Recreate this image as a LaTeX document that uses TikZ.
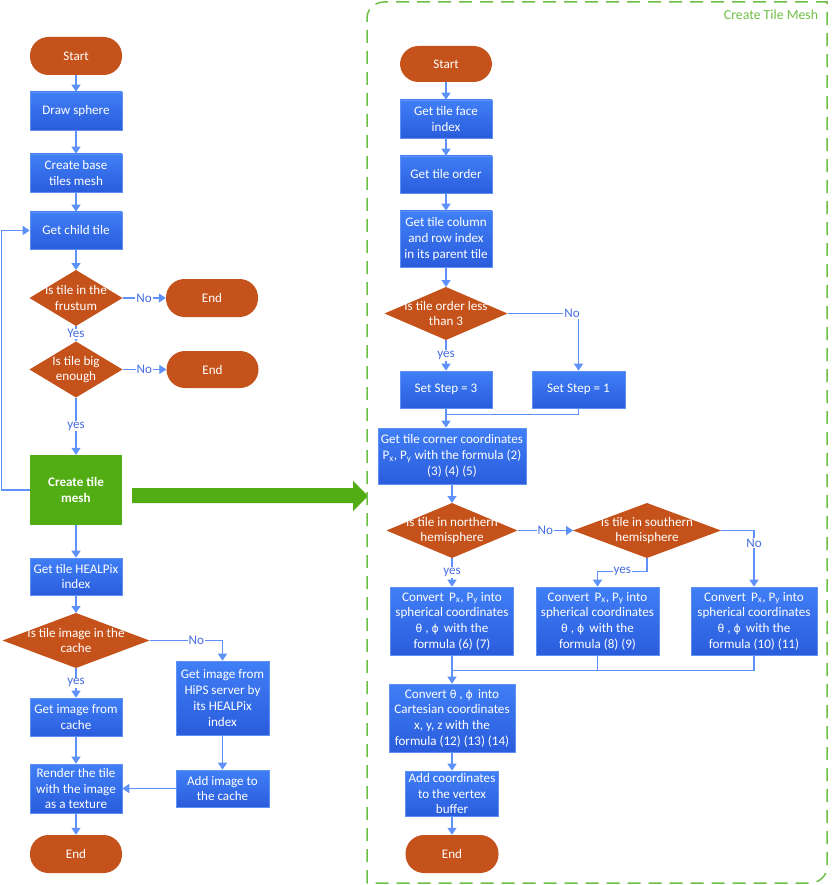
\documentclass[tikz,border=0pt]{standalone}
\usepackage{fontspec}
\setmainfont{Carlito}
\newfontfamily\symf{DejaVu Sans}
\usetikzlibrary{shapes.geometric,arrows.meta,calc}
\definecolor{termc}{RGB}{197,82,26}
\definecolor{boxtop}{RGB}{64,127,246}
\definecolor{boxbot}{RGB}{42,92,220}
\definecolor{boxedge}{RGB}{95,145,245}
\definecolor{linec}{RGB}{95,145,250}
\definecolor{labc}{RGB}{70,110,228}
\definecolor{gbox}{RGB}{82,172,20}
\definecolor{framec}{RGB}{110,190,70}
\newcommand{\mytheta}{{\symf\fontsize{11}{15.7}\selectfont θ}}
\newcommand{\myphi}{{\symf\fontsize{11}{15.7}\selectfont ϕ}}
\begin{document}
\begin{tikzpicture}[x=1pt,y=-1pt,
  font=\fontsize{13.1}{15.7}\selectfont,
  base/.style={inner sep=0pt, align=center, text=white},
  term/.style={base, rectangle, rounded corners=18.5pt, fill=termc, minimum width=92pt, minimum height=38pt},
  proc/.style={base, rectangle, top color=boxtop, bottom color=boxbot, draw=boxedge, line width=0.7pt, minimum width=92pt, minimum height=38pt},
  gproc/.style={base, rectangle, fill=gbox, minimum width=92pt, minimum height=70pt, font=\fontsize{13.1}{15.7}\selectfont\bfseries},
  dec/.style={diamond, fill=termc, inner sep=0pt, outer sep=0pt},
  dtxt/.style={base},
  conn/.style={draw=linec, line width=1.3pt, -{Triangle[width=9pt,length=7pt]}},
  cline/.style={draw=linec, line width=1.3pt},
  lab/.style={text=labc, fill=white, inner sep=1pt},
  frame/.style={draw=framec, line width=1.5pt, dash pattern=on 13pt off 8pt}
]
\useasboundingbox (0,0) rectangle (831,885);

% ---------------- left flow ----------------
\node[term] (s1) at (76,56) {Start};
\node[proc] (p1) at (76,111) {Draw sphere};
\node[proc] (p2) at (76,173) {Create base\\tiles mesh};
\node[proc, minimum height=37pt] (p3) at (76,230.5) {Get child tile};
\node[dec, minimum width=93pt, minimum height=56pt] (d1) at (76,298) {};
\node[dtxt] (d1t) at (d1) {Is tile in the\\frustum};
\node[term] (e1) at (212,298) {End};
\node[dec, minimum width=93pt, minimum height=56pt] (d2) at (76,369.5) {};
\node[dtxt] (d2t) at (d2) {Is tile big\\enough};
\node[term, minimum height=37pt] (e2) at (212.5,369.5) {End};
\node[gproc] (g) at (76,490) {Create tile\\mesh};
\node[proc, minimum height=37pt] (p4) at (76,576.5) {Get tile HEALPix\\index};
\node[dec, minimum width=147pt, minimum height=55pt] (d3) at (76,640.5) {};
\node[dtxt] (d3t) at (d3) {Is tile image in the\\cache};
\node[proc] (p5) at (76,717) {Get image from\\cache};
\node[proc, minimum width=93pt, minimum height=74pt] (p6) at (222.5,698) {Get image from\\HiPS server by\\its HEALPix\\index};
\node[proc, minimum height=49pt] (p7) at (76,788.5) {Render the tile\\with the image\\as a texture};
\node[proc, minimum width=93pt, minimum height=37pt] (p8) at (222.5,788.5) {Add image to\\the cache};
\node[term] (e3) at (76,854) {End};

\draw[conn] (s1.south) -- (p1.north);
\draw[conn] (p1.south) -- (p2.north);
\draw[conn] (p2.south) -- (p3.north);
\draw[conn] (p3.south) -- (d1.north);
\draw[conn] (d1.east) -- node[lab]{No} (e1.west);
\draw[conn] (d1.south) -- node[lab]{Yes} (d2.north);
\draw[conn] (d2.east) -- node[lab]{No} (e2.west);
\draw[conn] (d2.south) -- node[lab]{yes} (g.north);
\draw[conn] (g.south) -- (p4.north);
\draw[conn] (p4.south) -- (d3.north);
\draw[conn] (d3.east) -| node[lab, pos=0.32]{No} (p6.north);
\draw[conn] (d3.south) -- node[lab]{yes} (p5.north);
\draw[conn] (p5.south) -- (p7.north);
\draw[conn] (p6.south) -- (p8.north);
\draw[conn] (p8.west) -- (p7.east);
\draw[conn] (p7.south) -- (e3.north);
\draw[conn] (g.west) -- ++(-28,0) |- (p3.west);

% big green arrow
\fill[gbox] (132,488) -- (353,488) -- (353,481) -- (368,496) -- (353,511) -- (353,503) -- (132,503) -- cycle;

% ---------------- frame ----------------
\draw[frame] (367,883) -- (367,18) .. controls (367,9) and (375,2) .. (384,2) -- (827,2) -- (827,867) .. controls (827,876) and (819,883) .. (810,883) -- cycle;
\node[text=framec, font=\fontsize{13.8}{16}\selectfont, inner sep=0pt] (ftitle) at (771,15) {Create Tile Mesh};

% ---------------- right flow ----------------
\node[term, minimum height=36pt] (rs) at (446,64) {Start};
\node[proc] (r1) at (446,119) {Get tile face\\index};
\node[proc, minimum height=37pt] (r2) at (446,174.5) {Get tile order};
\node[proc, minimum height=56pt] (r3) at (446,239) {Get tile column\\and row index\\in its parent tile};
\node[dec, minimum width=123pt, minimum height=53pt] (rd1) at (446,313.5) {};
\node[dtxt] (rd1t) at (rd1) {Is tile order less\\than 3};
\node[proc, minimum height=37pt] (r4) at (446,389.5) {Set Step = 3};
\node[proc, minimum width=93pt, minimum height=37pt] (r5) at (578.5,389.5) {Set Step = 1};
\node[proc, minimum width=148pt, minimum height=56pt] (r6) at (452,456) {Get tile corner coordinates\\P\textsubscript{x}, P\textsubscript{y} with the formula (2)\\(3) (4) (5)};
\node[dec, minimum width=131pt, minimum height=55pt] (rd2) at (452,530.5) {};
\node[dtxt] (rd2t) at (rd2) {Is tile in northern\\hemisphere};
\node[dec, minimum width=148pt, minimum height=55pt] (rd3) at (647,530.5) {};
\node[dtxt] (rd3t) at (rd3) {Is tile in southern\\hemisphere};
\node[proc, minimum width=123pt, minimum height=68pt] (r7) at (452,621) {Convert \,P\textsubscript{x}, P\textsubscript{y} into\\spherical coordinates\\\mytheta\ , \myphi\ \,with the\\formula (6) (7)};
\node[proc, minimum width=123pt, minimum height=68pt] (r8) at (597.5,621) {Convert \,P\textsubscript{x}, P\textsubscript{y} into\\spherical coordinates\\\mytheta\ , \myphi\ \,with the\\formula (8) (9)};
\node[proc, minimum width=126pt, minimum height=68pt] (r9) at (754,621) {Convert \,P\textsubscript{x}, P\textsubscript{y} into\\spherical coordinates\\\mytheta\ , \myphi\ \,with the\\formula (10) (11)};
\node[proc, minimum width=126pt, minimum height=68pt] (r10) at (452,718) {Convert \mytheta\ , \myphi\ \,into\\Cartesian coordinates\\x, y, z with the\\formula (12) (13) (14)};
\node[proc, minimum width=93pt, minimum height=45pt] (r11) at (452,793.5) {Add coordinates\\to the vertex\\buffer};
\node[term, minimum width=93pt] (re) at (452,854) {End};

\draw[conn] (rs.south) -- (r1.north);
\draw[conn] (r1.south) -- (r2.north);
\draw[conn] (r2.south) -- (r3.north);
\draw[conn] (r3.south) -- (rd1.north);
\draw[conn] (rd1.south) -- node[lab]{yes} (r4.north);
\draw[conn] (rd1.east) -| node[lab, pos=0.455]{No} (r5.north);
\draw[conn] (r4.south) -- (r4.south |- r6.north);
\draw[cline] (r5.south) |- ($(r4.south)+(0,6)$);
\draw[conn] (r6.south) -- (rd2.north);
\draw[conn] (rd2.east) -- node[lab]{No} (rd3.west);
\draw[conn] (rd3.east) -| node[lab, pos=0.61]{No} (r9.north);
\draw[conn] (rd3.south) -- ++(0,13.5) -| node[lab, pos=0.25]{yes} (r8.north);
\draw[conn] (rd2.south) -- node[lab]{yes} (r7.north);
\draw[cline] (r7.south) -- ++(0,15) coordinate (m) -- (r9.south |- m) -- (r9.south);
\draw[cline] (r8.south) -- (r8.south |- m);
\draw[conn] (m) -- (r10.north);
\draw[conn] (r10.south) -- (r11.north);
\draw[conn] (r11.south) -- (re.north);
\end{tikzpicture}
\end{document}
